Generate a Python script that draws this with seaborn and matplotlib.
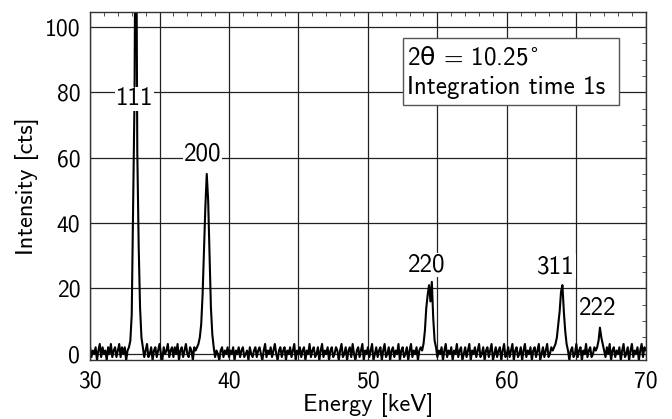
import numpy as np
import pandas as pd
import matplotlib
matplotlib.use("Agg")
import matplotlib.pyplot as plt
from matplotlib.patches import Rectangle
from matplotlib.ticker import MultipleLocator, FuncFormatter
import seaborn as sns

# --- spectrum data: counts per 0.1 keV channel, 30.0 ... 70.0 keV ---
ENERGY_START = 30.0
ENERGY_STEP = 0.1

counts = [
    2, -1, 1, 0, 2, -2, 1, 3, -1, 2, 0, 1, -2, 2, 0, 3, -1, 1, 2, -1,      # 30.0 - 31.9
    1, 3, -1, 2, 0, 2, -2, 1, 2, 4, 12, 45, 78, 160, 62, 33, 14, 5, 2, -1, # 32.0 - 33.9
    1, 3, -1, 0, 2, -2, 1, 2, -1, 1, 3, 0, -2, 2, 0, 1, 3, -1, 1, 2,       # 34.0 - 35.9
    -1, 2, 0, 3, -2, 1, 2, -1, 1, 3, 0, -1, 2, 1, -2, 2, 1, 2, 3, 5,       # 36.0 - 37.9
    9, 18, 31, 45, 55, 47, 30, 14, 6, 2, -1, 1, 0, -2, 1, 2, -1, 1, 0, 2,  # 38.0 - 39.9
    -1, 1, 0, 2, -2, 1, 0, 2, -1, 1, 2, -1, 0, 1, -2, 2, 0, -1, 1, 2,      # 40.0 - 41.9
    -1, 1, 2, 0, -2, 1, 3, -1, 1, 0, 2, -1, 1, 3, 0, -2, 1, 2, -1, 1,      # 42.0 - 43.9
    2, -2, 1, 0, 2, -1, 1, 3, -2, 1, 0, 2, -1, 1, 2, -2, 1, 0, 3, -1,      # 44.0 - 45.9
    1, 2, -1, 0, 2, -2, 1, 3, -1, 1, 0, 2, -2, 1, 2, -1, 0, 2, 1, -2,      # 46.0 - 47.9
    1, 3, -1, 0, 2, -2, 1, 2, -1, 3, 0, -2, 1, 2, -1, 1, 3, -2, 1, 0,      # 48.0 - 49.9
    2, -1, 1, 3, -2, 0, 2, -1, 1, 2, -2, 1, 3, -1, 0, 2, -2, 1, 2, -1,     # 50.0 - 51.9
    1, 0, 3, -2, 1, 2, -1, 0, 2, -2, 1, 3, -1, 1, 0, 2, -2, 1, 2, 1,       # 52.0 - 53.9
    3, 7, 14, 18, 21, 16, 22, 11, 4, 2, -1, 1, 0, 2, -2, 1, 3, -1, 1, 0,   # 54.0 - 55.9
    2, -2, 1, 0, 3, -1, 1, 2, -2, 0, 2, -1, 1, 3, -2, 1, 0, 2, -1, 1,      # 56.0 - 57.9
    3, -1, 0, 2, -2, 1, 2, -1, 1, 3, -2, 0, 2, -1, 1, 2, -2, 1, 3, -1,     # 58.0 - 59.9
    0, 2, -1, 1, 3, -2, 1, 2, -1, 0, 2, -2, 1, 3, -1, 1, 0, 2, -2, 1,      # 60.0 - 61.9
    2, -1, 1, 3, -2, 0, 2, -1, 1, 3, -1, 0, 2, 1, 2, 3, 5, 9, 13, 19,      # 62.0 - 63.9
    21, 13, 7, 3, 1, -2, 1, 2, -1, 0, 3, -1, 1, 2, -2, 1, 0, 3, -1, 1,     # 64.0 - 65.9
    2, -1, 0, 2, 1, 2, 4, 8, 5, 3, 1, -1, 2, 0, 3, -2, 1, 2, -1, 1,        # 66.0 - 67.9
    0, 2, -2, 1, 3, -1, 0, 2, -2, 1, 3, -1, 1, 0, 2, -2, 1, 3, -1, 2,      # 68.0 - 69.9
    1,                                                                    # 70.0
]

peak_labels = ["111", "200", "220", "311", "222"]
info_lines = [r"2$\mathrm{\theta}$ = 10.25$^{\circ}$", "Integration time 1s"]

energy = ENERGY_START + ENERGY_STEP * np.arange(len(counts))
df = pd.DataFrame({"energy": energy, "counts": counts})

sns.set_style("white")
plt.rcParams["font.family"] = ["cmss10", "DejaVu Sans"]
plt.rcParams["mathtext.fontset"] = "dejavusans"
plt.rcParams["axes.unicode_minus"] = False
plt.rcParams["text.color"] = "black"
plt.rcParams["axes.labelcolor"] = "black"
plt.rcParams["xtick.color"] = "black"
plt.rcParams["ytick.color"] = "black"

fig = plt.figure(figsize=(6.72, 4.19), dpi=100)
ax = fig.add_axes([0.134, 0.14, 0.827, 0.831])

sns.lineplot(data=df, x="energy", y="counts", ax=ax, color="black", linewidth=1.5)

ax.set_xlim(30, 70)
ax.set_ylim(-2, 104.5)

ax.xaxis.set_major_locator(MultipleLocator(5))
ax.xaxis.set_minor_locator(MultipleLocator(1))
ax.xaxis.set_major_formatter(FuncFormatter(lambda v, p: f"{v:.0f}" if v % 10 == 0 else ""))
ax.yaxis.set_major_locator(MultipleLocator(20))
ax.yaxis.set_minor_locator(MultipleLocator(5))

ax.grid(True, which="major", color="#222222", linewidth=0.9)
ax.tick_params(which="both", direction="in", top=True, right=True, labelsize=17)
ax.tick_params(which="major", length=0, pad=7)
ax.tick_params(which="minor", length=3, color="#333333")
ax.tick_params(axis="x", which="minor", bottom=False)
for s in ax.spines.values():
    s.set_color("#333333")
    s.set_linewidth(1.0)

ax.set_xlabel("Energy [keV]", fontsize=17.5, labelpad=1)
ax.set_ylabel("Intensity [cts]", fontsize=17.5, labelpad=4)

label_pos = [(33.2, 78), (38.1, 61), (54.2, 27.2), (63.55, 26.7), (66.55, 13.8)]
for lab, (lx, ly) in zip(peak_labels, label_pos):
    ax.text(lx, ly, lab, fontsize=18, ha="center", va="center", zorder=5,
            bbox=dict(facecolor="white", edgecolor="none", pad=0.5))

# info box
ax.add_patch(Rectangle((0.563, 0.733), 0.388, 0.192, transform=ax.transAxes,
                       facecolor="white", edgecolor="#555555", linewidth=1.0, zorder=6))
for txt, yb in zip(info_lines, [0.850, 0.764]):
    ax.text(0.570, yb, txt, transform=ax.transAxes, fontsize=18, ha="left",
            va="baseline", zorder=7)

fig.savefig("out.png", dpi=100)
